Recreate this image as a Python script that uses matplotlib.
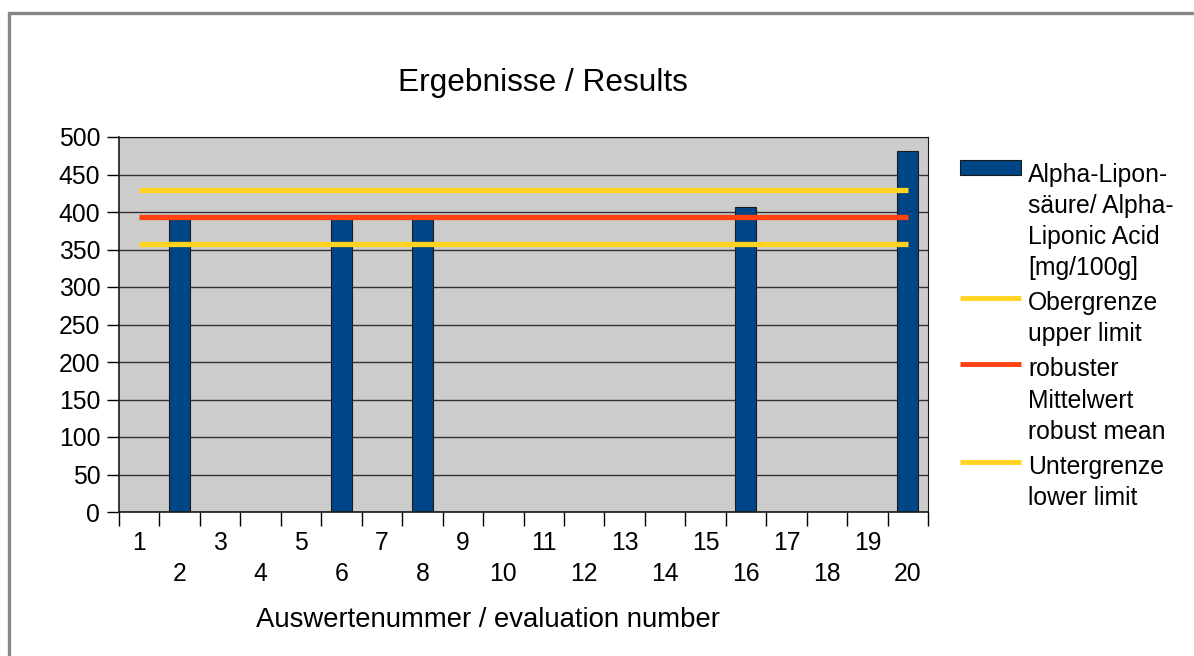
import matplotlib.pyplot as plt
import matplotlib.patches as mpatches
from matplotlib.lines import Line2D
import numpy as np

plt.rcParams['font.family'] = ['Liberation Sans', 'DejaVu Sans']

# categories and values
evaluation_numbers = list(range(1, 21))
result_ids = [2, 6, 8, 16, 20]
result_values = [391, 391, 391, 407, 481]
upper_limit = 429
robust_mean = 394
lower_limit = 357

legend_labels = [
    ['Alpha-Lipon-', 'säure/ Alpha-', 'Liponic Acid', '[mg/100g]'],
    ['Obergrenze', 'upper limit'],
    ['robuster', 'Mittelwert', 'robust mean'],
    ['Untergrenze', 'lower limit'],
]

bar_color = '#004586'
yellow = '#ffd320'
red = '#ff420e'

W, H = 1194, 656


def fx(px):
    return px / W


def fy(py):
    return 1 - py / H


fig = plt.figure(figsize=(11.94, 6.56), dpi=100)
ax = fig.add_axes([fx(119), fy(512), (928 - 119) / W, (512 - 137) / H])
ax.set_facecolor('#cccccc')

# outer frame
fig.patches.append(mpatches.Rectangle((fx(9), -0.1), 1.2, fy(13) + 0.1,
                                      transform=fig.transFigure, fill=False,
                                      edgecolor='#888888', linewidth=2.4))

ax.set_axisbelow(True)
ax.yaxis.grid(True, color='#333333', linewidth=1)
ax.bar(result_ids, result_values, width=0.52, color=bar_color,
       edgecolor='#1a1a1a', linewidth=0.8, zorder=2)

x_first, x_last = evaluation_numbers[0], evaluation_numbers[-1]
line_colors = [yellow, red, yellow]
for val, col in zip([upper_limit, robust_mean, lower_limit], line_colors):
    ax.plot([x_first, x_last], [val, val], color=col, linewidth=3.8,
            solid_capstyle='butt', zorder=3)

ax.set_xlim(0.5, 20.5)
ax.set_ylim(0, 500)
ax.set_yticks(np.arange(0, 501, 50))
ax.tick_params(axis='y', labelsize=17.8, length=8.5, width=1, direction='out', pad=5)

# ticks at category boundaries, labels at centers (staggered)
ax.set_xticks(np.arange(0.5, 21, 1))
ax.set_xticklabels([])
ax.tick_params(axis='x', which='major', length=10, width=1, direction='out')
ax.set_xticks(evaluation_numbers, minor=True)
ax.set_xticklabels([str(n) if n % 2 else '\n' + str(n) for n in evaluation_numbers],
                   minor=True, fontsize=17.8, linespacing=1.38)
ax.tick_params(axis='x', which='minor', length=0, pad=13.5)

for s in ['top', 'right']:
    ax.spines[s].set_color('#1a1a1a')
for s in ['left', 'bottom']:
    ax.spines[s].set_color('#1a1a1a')
    ax.spines[s].set_linewidth(1.2)

fig.text(fx(542.5), fy(91), 'Ergebnisse / Results', ha='center', va='baseline', fontsize=22.8)
fig.text(fx(487.5), fy(627), 'Auswertenummer / evaluation number', ha='center',
         va='baseline', fontsize=19.8)

# legend, drawn line by line so the key sits at the first text line
step, gap = 31.2, 3.8
base = 181.7
handle_kinds = ['bar', yellow, red, yellow]
for lines, kind in zip(legend_labels, handle_kinds):
    if kind == 'bar':
        fig.patches.append(mpatches.Rectangle((fx(960), fy(175)), (1021 - 960) / W, 15 / H,
                                              transform=fig.transFigure, facecolor=bar_color,
                                              edgecolor='#1a1a1a', linewidth=0.8))
    else:
        hy = fy(base - 12)
        fig.lines.append(Line2D([fx(960), fx(1021)], [hy, hy], transform=fig.transFigure,
                                color=kind, linewidth=3.5, solid_capstyle='butt'))
    for i, t in enumerate(lines):
        fig.text(fx(1028), fy(base + i * step), t, ha='left', va='baseline', fontsize=17.8)
    base += len(lines) * step + gap

fig.savefig('out.png', dpi=100)
